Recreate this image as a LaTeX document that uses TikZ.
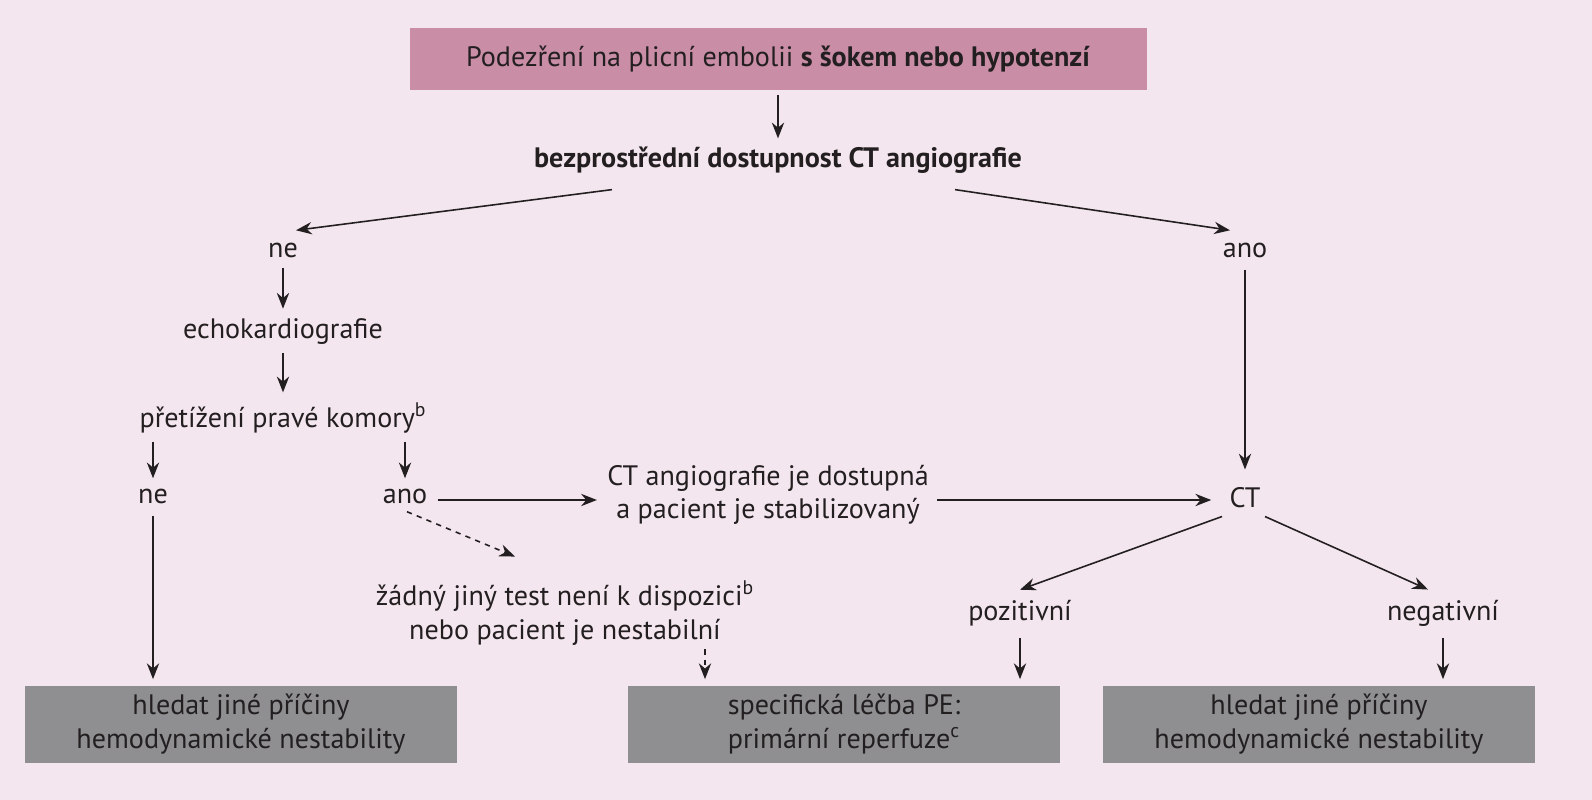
\documentclass[tikz,border=0pt]{standalone}
\usepackage{fontspec}
\setmainfont{PT Sans}
\usetikzlibrary{arrows.meta,calc}
\definecolor{bg}{HTML}{F4E6EE}
\definecolor{topc}{HTML}{C98DA5}
\definecolor{boxc}{HTML}{8F8F91}
\definecolor{ink}{HTML}{231F20}
\begin{document}
\begin{tikzpicture}[x=0.02cm,y=-0.02cm,
  txt/.style={font=\fontsize{16}{19}\selectfont,text=ink,align=center,inner sep=0pt},
  endbox/.style={txt,fill=boxc,minimum width=432*0.02cm,minimum height=77*0.02cm},
  arr/.style={draw=ink,line width=0.9pt,-{Stealth[length=9pt,width=7pt]}},
  darr/.style={arr,dashed}]
\fill[bg] (0,0) rectangle (1592,800);
\useasboundingbox (0,0) rectangle (1592,800);
\node[txt,fill=topc,minimum width=737*0.02cm,minimum height=62*0.02cm] (top) at (778,59) {Podezření na plicní embolii \textbf{s šokem nebo hypotenzí}};
\node[txt,font=\fontsize{16}{19}\selectfont\bfseries] (bez) at (778,160) {bezprostřední dostupnost CT angiografie};
\node[txt] (ne1) at (283,250) {ne};
\node[txt] (ano1) at (1245,250) {ano};
\node[txt] (echo) at (283,332) {echokardiografie};
\node[txt] (pret) at (283,418) {přetížení pravé komory$^{\mathrm{b}}$};
\node[txt] (ne2) at (153,496) {ne};
\node[txt] (ano2) at (405,496) {ano};
\node[txt] (ctd) at (768,495) {CT angiografie je dostupná\\a pacient je stabilizovaný};
\node[txt] (ct) at (1245,498) {CT};
\node[txt] (zad) at (565,613) {žádný jiný test není k dispozici$^{\mathrm{b}}$\\nebo pacient je nestabilní};
\node[txt] (poz) at (1020,613) {pozitivní};
\node[txt] (neg) at (1443,613) {negativní};
\node[endbox] (b1) at (241,724) {hledat jiné příčiny\\hemodynamické nestability};
\node[endbox] (b2) at (844,724) {specifická léčba PE:\\primární reperfuze$^{\mathrm{c}}$};
\node[endbox] (b3) at (1319,724) {hledat jiné příčiny\\hemodynamické nestability};
\draw[arr] (top.south) ++(0,5) -- ($(bez.north)+(0,-8)$);
\draw[arr] ($(bez.south)+(-166,16)$) -- ($(ne1.north)+(13,-12)$);
\draw[arr] ($(bez.south)+(177,16)$) -- ($(ano1.north)+(-15,-12)$);
\draw[arr] ($(ne1.south)+(0,10)$) -- ($(echo.north)+(0,-10)$);
\draw[arr] ($(echo.south)+(0,8)$) -- ($(pret.north)+(0,-10)$);
\draw[arr] ($(pret.south)+(-130,8)$) -- ($(ne2.north)+(0,-10)$);
\draw[arr] ($(pret.south)+(122,8)$) -- ($(ano2.north)+(0,-10)$);
\draw[arr] ($(ne2.south)+(0,12)$) -- ($(b1.north)+(-88,-6)$);
\draw[arr] ($(ano2.east)+(10,4)$) -- ($(ctd.west)+(-10,5)$);
\draw[arr] ($(ctd.east)+(8,5)$) -- ($(ct.west)+(-18,2)$);
\draw[arr] ($(ano1.south)+(0,12)$) -- ($(ct.north)+(0,-18)$);
\draw[darr] ($(ano2.south)+(2,8)$) -- ($(zad.north)+(-50,-24)$);
\draw[darr] ($(zad.south)+(140,4)$) -- ($(b2.north)+(-139,-6)$);
\draw[arr] ($(ct.south)+(-23,8)$) -- ($(poz.north)+(0,-10)$);
\draw[arr] ($(ct.south)+(20,8)$) -- ($(neg.north)+(-15,-10)$);
\draw[arr] ($(poz.south)+(0,12)$) -- ($(b2.north)+(176,-6)$);
\draw[arr] ($(neg.south)+(0,12)$) -- ($(b3.north)+(124,-6)$);
\end{tikzpicture}
\end{document}
